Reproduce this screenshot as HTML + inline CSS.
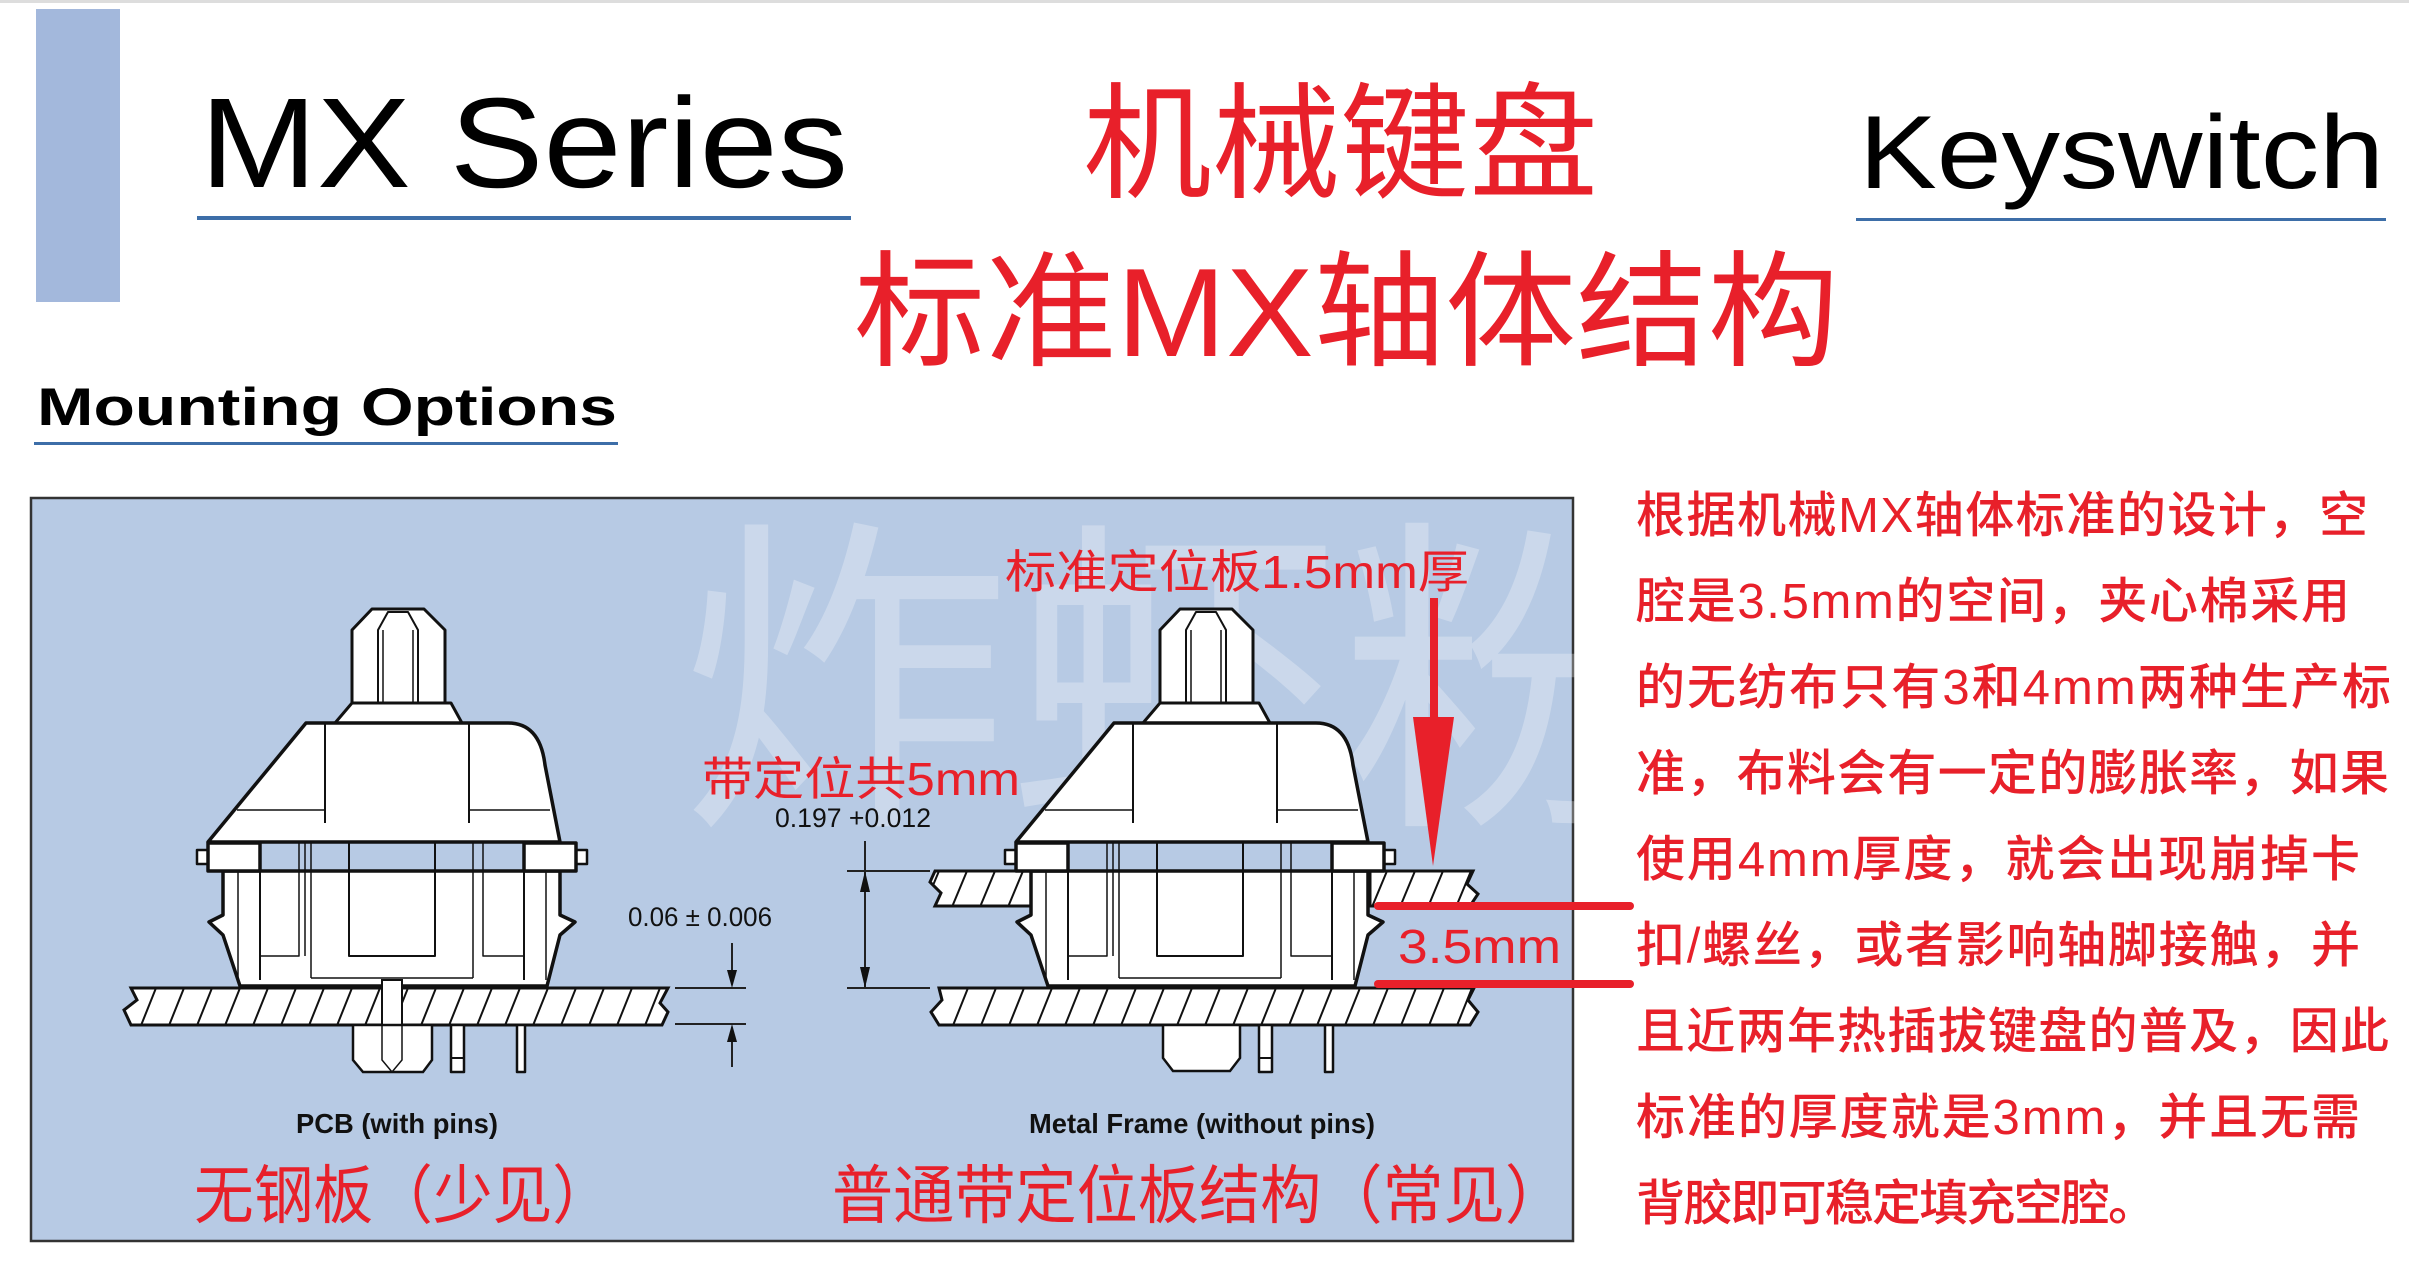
<!DOCTYPE html>
<html><head><meta charset="utf-8"><style>
html,body{margin:0;padding:0;background:#fff;}
svg{display:block;}
</style></head><body>
<svg width="2409" height="1279" viewBox="0 0 2409 1279" xmlns="http://www.w3.org/2000/svg">
<defs>
<pattern id="hatch" patternUnits="userSpaceOnUse" width="28" height="40" patternTransform="translate(0,988)">
<rect width="28" height="40" fill="#fff"/>
<line x1="0" y1="40" x2="16" y2="0" stroke="#111" stroke-width="2"/>
<line x1="28" y1="40" x2="44" y2="0" stroke="#111" stroke-width="2"/>
</pattern>
<pattern id="hatch2" patternUnits="userSpaceOnUse" width="28" height="36" patternTransform="translate(0,871)">
<rect width="28" height="36" fill="#fff"/>
<line x1="0" y1="36" x2="15" y2="0" stroke="#111" stroke-width="2"/>
<line x1="28" y1="36" x2="43" y2="0" stroke="#111" stroke-width="2"/>
</pattern>
<g id="sw" stroke="#111" fill="#fff" stroke-linejoin="round">
<polygon points="352,630 372,609 424,609 445,630 445,703 352,703" stroke-width="3"/>
<polyline points="378,703 378,630 388,612 408,612 418,630 418,703" fill="none" stroke-width="2"/>
<line x1="383" y1="630" x2="383" y2="703" stroke-width="1.5"/>
<line x1="413" y1="630" x2="413" y2="703" stroke-width="1.5"/>
<polygon points="352,703 451,703 462,723 335,723" stroke-width="3"/>
<path d="M306,723 L508,723 Q540,723 545,765 L560,842 L208,842 Z" stroke-width="3.5"/>
<line x1="325" y1="723" x2="325" y2="823" stroke-width="2"/>
<line x1="469" y1="723" x2="469" y2="823" stroke-width="2"/>
<line x1="237" y1="810" x2="325" y2="810" stroke-width="1.5"/>
<line x1="469" y1="810" x2="550" y2="810" stroke-width="1.5"/>
<path d="M223,871 L223,915 L209,922 L223,935 L240,986 L547,986 L560,935 L575,922 L560,915 L560,871 Z" stroke-width="3.5"/>
<line x1="238" y1="871" x2="238" y2="980" stroke-width="1.5"/>
<line x1="260" y1="871" x2="260" y2="980" stroke-width="2"/>
<polyline points="260,956 299,956 299,843" fill="none" stroke-width="1.5"/>
<line x1="305" y1="843" x2="305" y2="956" stroke-width="1.5"/>
<line x1="311" y1="843" x2="311" y2="978" stroke-width="1.5"/>
<polyline points="349,843 349,956 435,956 435,843" fill="none" stroke-width="2"/>
<line x1="473" y1="843" x2="473" y2="978" stroke-width="1.5"/>
<polyline points="483,843 483,956 524,956" fill="none" stroke-width="1.5"/>
<line x1="524" y1="871" x2="524" y2="980" stroke-width="2"/>
<line x1="546" y1="871" x2="546" y2="980" stroke-width="1.5"/>
<line x1="311" y1="978" x2="473" y2="978" stroke-width="1.5"/>
<rect x="197" y="850" width="11" height="14" stroke-width="2.5"/>
<rect x="208" y="843" width="52" height="28" stroke-width="3.5"/>
<rect x="576" y="850" width="11" height="14" stroke-width="2.5"/>
<rect x="524" y="843" width="52" height="28" stroke-width="3.5"/>
<rect x="451" y="1025" width="13" height="47" stroke-width="2.5"/>
<line x1="451" y1="1058" x2="464" y2="1058" stroke-width="2"/>
<rect x="517" y="1025" width="8" height="47" stroke-width="2.5"/>
</g>
</defs>

<rect x="0" y="0" width="2409" height="3" fill="#ddd"/>
<rect x="36" y="9" width="84" height="293" fill="#a3b8dc"/>

<text x="200" y="187" font-family="Liberation Sans, sans-serif" font-size="128" fill="#000" textLength="648" lengthAdjust="spacingAndGlyphs">MX Series</text>
<rect x="197" y="216" width="654" height="4" fill="#3d6ea8"/>

<text x="1083" y="188" font-family="Liberation Sans, 'Noto Sans CJK SC', sans-serif" font-size="126" fill="#e8202a" textLength="515" lengthAdjust="spacingAndGlyphs">机械键盘</text>
<text x="854" y="356" font-family="Liberation Sans, 'Noto Sans CJK SC', sans-serif" font-size="126" fill="#e8202a" textLength="985" lengthAdjust="spacingAndGlyphs">标准MX轴体结构</text>

<text x="1859" y="188" font-family="Liberation Sans, sans-serif" font-size="104" fill="#000" textLength="525" lengthAdjust="spacingAndGlyphs">Keyswitch</text>
<rect x="1856" y="218" width="530" height="3" fill="#3d6ea8"/>

<text x="37" y="425" font-family="Liberation Sans, sans-serif" font-weight="bold" font-size="53" fill="#000" textLength="580" lengthAdjust="spacingAndGlyphs">Mounting Options</text>
<rect x="34" y="442" width="584" height="3" fill="#3d6ea8"/>

<rect x="31" y="498" width="1542" height="743" fill="#b7cae4" stroke="#333" stroke-width="2.5"/>
<text x="680" y="800" font-family="'Noto Sans CJK SC', sans-serif" font-size="330" fill="#ffffff" fill-opacity="0.28">炸虾粉</text>

<polygon points="131,988 668,988 660,1003 668,1012 662,1025 131,1025 124,1010 137,1000" fill="url(#hatch)" stroke="#111" stroke-width="3"/>
<use href="#sw"/>
<rect x="382" y="980" width="20" height="45" fill="#fff" stroke="#111" stroke-width="2"/>
<path d="M353,1025 L432,1025 L432,1060 L423,1072 L363,1072 L353,1060 Z" fill="#fff" stroke="#111" stroke-width="2.5"/>
<polyline points="382,1025 382,1060 392,1072 402,1060 402,1025" fill="none" stroke="#111" stroke-width="1.5"/>

<polygon points="935,871 1032,871 1032,906 935,906 941,893 930,882" fill="url(#hatch2)" stroke="#111" stroke-width="3"/>
<polygon points="1370,871 1473,871 1467,884 1478,894 1470,906 1370,906" fill="url(#hatch2)" stroke="#111" stroke-width="3"/>
<polygon points="939,988 1474,988 1468,1000 1478,1012 1470,1025 939,1025 931,1012 942,1000" fill="url(#hatch)" stroke="#111" stroke-width="3"/>
<use href="#sw" transform="translate(808,0)"/>
<path d="M1163,1025 L1240,1025 L1240,1058 L1230,1071 L1173,1071 L1163,1058 Z" fill="#fff" stroke="#111" stroke-width="2.5"/>

<g stroke="#222" stroke-width="2" fill="#111">
<line x1="675" y1="988" x2="746" y2="988"/>
<line x1="675" y1="1024" x2="746" y2="1024"/>
<line x1="732" y1="943" x2="732" y2="975"/>
<polygon points="727,970 737,970 732,988" stroke="none"/>
<line x1="732" y1="1037" x2="732" y2="1067"/>
<polygon points="727,1042 737,1042 732,1024" stroke="none"/>
<line x1="847" y1="871" x2="930" y2="871"/>
<line x1="847" y1="988" x2="930" y2="988"/>
<line x1="865" y1="841" x2="865" y2="988"/>
<polygon points="860,892 870,892 865,871" stroke="none"/>
<polygon points="860,967 870,967 865,988" stroke="none"/>
</g>
<text x="628" y="926" font-family="Liberation Sans, sans-serif" font-size="27" fill="#111" textLength="144" lengthAdjust="spacingAndGlyphs">0.06 ± 0.006</text>
<text x="775" y="827" font-family="Liberation Sans, sans-serif" font-size="27" fill="#111" textLength="156" lengthAdjust="spacingAndGlyphs">0.197 +0.012</text>

<text x="702" y="795" font-family="Liberation Sans, 'Noto Sans CJK SC', sans-serif" font-size="46" fill="#e8202a" textLength="318" lengthAdjust="spacingAndGlyphs">带定位共5mm</text>
<text x="1005" y="588" font-family="Liberation Sans, 'Noto Sans CJK SC', sans-serif" font-size="46" fill="#e8202a" textLength="464" lengthAdjust="spacingAndGlyphs">标准定位板1.5mm厚</text>
<rect x="1430" y="598" width="8" height="125" fill="#e8202a"/>
<polygon points="1413,717 1454,717 1433,866" fill="#e8202a"/>
<line x1="1378" y1="906" x2="1630" y2="906" stroke="#e8202a" stroke-width="8" stroke-linecap="round"/>
<line x1="1378" y1="984" x2="1630" y2="984" stroke="#e8202a" stroke-width="8" stroke-linecap="round"/>
<text x="1398" y="963" font-family="Liberation Sans, sans-serif" font-size="48" fill="#e8202a" textLength="163" lengthAdjust="spacingAndGlyphs">3.5mm</text>

<text x="296" y="1133" font-family="Liberation Sans, sans-serif" font-weight="bold" font-size="28" fill="#111" textLength="202" lengthAdjust="spacingAndGlyphs">PCB (with pins)</text>
<text x="1029" y="1133" font-family="Liberation Sans, sans-serif" font-weight="bold" font-size="28" fill="#111" textLength="346" lengthAdjust="spacingAndGlyphs">Metal Frame (without pins)</text>
<text x="194" y="1218" font-family="Liberation Sans, 'Noto Sans CJK SC', sans-serif" font-size="64" fill="#e8202a" textLength="418" lengthAdjust="spacingAndGlyphs">无钢板（少见）</text>
<text x="832" y="1218" font-family="Liberation Sans, 'Noto Sans CJK SC', sans-serif" font-size="64" fill="#e8202a" textLength="734" lengthAdjust="spacingAndGlyphs">普通带定位板结构（常见）</text>

<g font-family="Liberation Sans, 'Noto Sans CJK SC', sans-serif" font-size="49" font-weight="500" fill="#e8202a" lengthAdjust="spacingAndGlyphs">
<text x="1636" y="532" textLength="732">根据机械MX轴体标准的设计，空</text>
<text x="1636" y="618" textLength="714">腔是3.5mm的空间，夹心棉采用</text>
<text x="1636" y="704" textLength="755">的无纺布只有3和4mm两种生产标</text>
<text x="1636" y="790" textLength="753">准，布料会有一定的膨胀率，如果</text>
<text x="1636" y="876" textLength="724">使用4mm厚度，就会出现崩掉卡</text>
<text x="1636" y="962" textLength="724">扣/螺丝，或者影响轴脚接触，并</text>
<text x="1636" y="1048" textLength="753">且近两年热插拔键盘的普及，因此</text>
<text x="1636" y="1134" textLength="724">标准的厚度就是3mm，并且无需</text>
<text x="1636" y="1220" textLength="521">背胶即可稳定填充空腔。</text>
</g>
</svg>
</body></html>
